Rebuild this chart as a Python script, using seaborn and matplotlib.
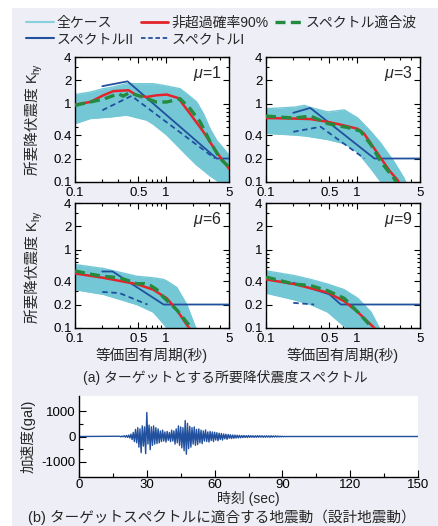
import matplotlib.pyplot as plt
import numpy as np
import pandas as pd
import seaborn as sns
from matplotlib.lines import Line2D
from matplotlib.patches import Rectangle
from matplotlib.ticker import NullFormatter

sns.set_style('ticks')
plt.rcParams['font.family'] = ['Liberation Sans', 'Noto Sans CJK JP', 'DejaVu Sans']
plt.rcParams['axes.unicode_minus'] = False
plt.rcParams['mathtext.fontset'] = 'custom'
plt.rcParams['mathtext.rm'] = 'Liberation Sans'
plt.rcParams['mathtext.it'] = 'Liberation Sans:italic'

# ---- (a) spectra: period T [s] vs Khy ----
# mu = 1
band_T_1 = [0.1, 0.147, 0.205, 0.243, 0.37, 0.62, 0.73, 1.03, 1.44, 1.71, 2.2, 2.61, 3.09, 3.66, 4.34, 5.0]
band_hi_1 = [1.32, 1.42, 1.57, 1.62, 1.82, 1.82, 1.82, 1.7, 1.57, 1.35, 1.06, 0.75, 0.48, 0.34, 0.27, 0.22]
band_lo_1 = [0.56, 0.65, 0.67, 0.68, 0.72, 0.62, 0.55, 0.40, 0.27, 0.22, 0.165, 0.141, 0.12, 0.105, 0.09, 0.08]
red_T_1 = [0.1, 0.147, 0.205, 0.265, 0.39, 0.48, 0.62, 0.79, 1.03, 1.38, 1.86, 2.61, 3.66, 5.0]
red_K_1 = [0.98, 1.06, 1.29, 1.46, 1.5, 1.29, 1.23, 1.29, 1.32, 1.19, 0.75, 0.44, 0.24, 0.148]
grn_T_1 = [0.1, 0.147, 0.205, 0.30, 0.34, 0.40, 0.62, 0.79, 1.03, 1.44, 1.86, 2.4, 3.09, 3.98, 5.0]
grn_K_1 = [0.96, 1.06, 1.15, 1.35, 1.26, 1.40, 1.17, 1.06, 1.06, 1.17, 0.87, 0.59, 0.33, 0.2, 0.156]
s2_T_1 = [0.2, 0.38, 3.66, 5.0]
s2_K_1 = [1.69, 1.95, 0.2, 0.2]
s1_T_1 = [0.2, 0.42, 3.5]
s1_K_1 = [0.83, 1.27, 0.2]

# mu = 3
band_T_3 = [0.1, 0.205, 0.265, 0.31, 0.48, 0.73, 1.03, 1.44, 1.86, 2.02, 2.6, 3.36, 3.6]
band_hi_3 = [0.87, 0.91, 0.96, 0.9, 0.79, 0.84, 0.66, 0.44, 0.31, 0.27, 0.18, 0.11, 0.09]
band_lo_3 = [0.42, 0.40, 0.39, 0.38, 0.35, 0.31, 0.24, 0.148, 0.1, 0.09, 0.08, 0.08, 0.08]
red_T_3 = [0.1, 0.205, 0.31, 0.48, 0.73, 1.03, 1.2, 1.44, 1.86, 2.3, 2.84, 3.0]
red_K_3 = [0.66, 0.65, 0.64, 0.59, 0.53, 0.48, 0.42, 0.31, 0.2, 0.14, 0.105, 0.095]
grn_T_3 = [0.1, 0.205, 0.31, 0.48, 0.79, 1.1, 1.44, 1.86, 2.6, 2.8]
grn_K_3 = [0.70, 0.66, 0.70, 0.56, 0.50, 0.45, 0.30, 0.18, 0.11, 0.095]
s2_T_3 = [0.2, 0.308, 1.57, 5.0]
s2_K_3 = [0.77, 0.89, 0.2, 0.2]
s1_T_3 = [0.2, 0.40, 1.22]
s1_K_3 = [0.44, 0.51, 0.2]

# mu = 6
band_T_6 = [0.1, 0.205, 0.48, 0.73, 0.94, 1.03, 1.33, 1.71, 2.11, 2.3]
band_hi_6 = [0.65, 0.58, 0.46, 0.44, 0.42, 0.40, 0.33, 0.2, 0.105, 0.09]
band_lo_6 = [0.31, 0.27, 0.20, 0.16, 0.115, 0.1, 0.08, 0.08, 0.08, 0.08]
red_T_6 = [0.1, 0.205, 0.48, 0.73, 1.03, 1.33, 1.71, 1.95]
red_K_6 = [0.50, 0.44, 0.365, 0.31, 0.24, 0.17, 0.11, 0.09]
grn_T_6 = [0.1, 0.135, 0.205, 0.31, 0.4, 0.48, 0.58, 0.68, 0.8, 0.94, 1.33, 1.86, 2.0]
grn_K_6 = [0.54, 0.50, 0.46, 0.44, 0.40, 0.37, 0.37, 0.35, 0.31, 0.25, 0.17, 0.105, 0.09]
s2_T_6 = [0.2, 0.26, 0.95, 5.0]
s2_K_6 = [0.53, 0.53, 0.2, 0.2]
s1_T_6 = [0.2, 0.31, 0.63]
s1_K_6 = [0.29, 0.28, 0.2]

# mu = 9
band_T_9 = [0.1, 0.205, 0.31, 0.48, 0.73, 0.76, 1.03, 1.44, 1.78, 1.9]
band_hi_9 = [0.54, 0.47, 0.42, 0.365, 0.31, 0.30, 0.24, 0.16, 0.1, 0.09]
band_lo_9 = [0.28, 0.23, 0.2, 0.16, 0.105, 0.1, 0.08, 0.08, 0.08, 0.08]
red_T_9 = [0.1, 0.205, 0.48, 0.73, 1.03, 1.33, 1.57, 1.7]
red_K_9 = [0.42, 0.365, 0.285, 0.22, 0.16, 0.12, 0.1, 0.09]
grn_T_9 = [0.1, 0.205, 0.31, 0.48, 0.73, 1.03, 1.44, 1.6]
grn_K_9 = [0.45, 0.365, 0.35, 0.30, 0.24, 0.16, 0.105, 0.09]
s2_T_9 = [0.2, 0.5, 0.67, 5.0]
s2_K_9 = [0.38, 0.27, 0.2, 0.2]
s1_T_9 = [0.2, 0.34]
s1_K_9 = [0.21, 0.2]

x_major = [0.1, 0.5, 1, 5]
x_labels = ['0.1', '0.5', '1', '5']
x_minor = [0.2, 0.3, 0.4, 0.6, 0.7, 0.8, 0.9, 2, 3, 4]
y_major = [0.1, 0.2, 0.4, 1, 2, 4]
y_labels = ['0.1', '0.2', '0.4', '1', '2', '4']
y_minor = [0.3, 0.5, 0.6, 0.7, 0.8, 0.9, 3]

# ---- (b) acceleration record [gal], sampled every 0.5 s from 18 s ----
acc_t0 = 18.0
acc_dt = 0.5
acc_vals = [
    10, -15, 20, -10, 30, -25, 40, -35, 55, -60,
    90, -120, 160, -200, 280, -250, 350, -420, 300, -640,
    420, -380, 380, -680, 950, -300, 450, -520, 380, -350,
    420, -300, 350, -280, 300, -250, 220, -200, 250, -180,
    180, -220, 200, -150, 160, -200, 250, -180, 220, -300,
    300, -250, 420, -350, 380, -450, 350, -560, 630, -700,
    520, -480, 400, -420, 350, -300, 380, -350, 280, -320,
    300, -250, 250, -280, 220, -180, 260, -200, 180, -220,
    200, -160, 180, -200, 170, -140, 150, -170, 130, -120,
    120, -140, 100, -90, 90, -110, 80, -70, 70, -80,
    60, -70, 55, -60, 50, -55, 45, -50, 40, -45,
    40, -40, 35, -40, 40, -35, 35, -30, 30, -35,
    30, -30, 35, -30, 30, -25, 30, -30, 25, -30,
    30, -25, 25, -30, 30, -25, 25, -20, 25, -20,
    20, -15, 15, -15, 10, -10, 5, -5, 0, 0,
]
rec_start = 0.0
rec_end = 150.0

CYAN = '#74c8d6'
RED = '#e5232b'
GREEN = '#238a3e'
BLUE = '#21509e'

W, H = 438, 526
fig = plt.figure(figsize=(W / 100, H / 100), dpi=100)
fig.patches.append(Rectangle((12 / W, 0), 1 - 12 / W, 1 - 8 / H, transform=fig.transFigure,
                             facecolor='#eeeef6', edgecolor='none', zorder=-5))


def box(l, t, r, b):
    return [l / W, 1 - b / H, (r - l) / W, (b - t) / H]


panels = [
    (1, box(75, 57, 229, 182), band_T_1, band_lo_1, band_hi_1, red_T_1, red_K_1, grn_T_1, grn_K_1, s2_T_1, s2_K_1, s1_T_1, s1_K_1),
    (3, box(266, 57, 420, 182), band_T_3, band_lo_3, band_hi_3, red_T_3, red_K_3, grn_T_3, grn_K_3, s2_T_3, s2_K_3, s1_T_3, s1_K_3),
    (6, box(75, 203, 229, 328), band_T_6, band_lo_6, band_hi_6, red_T_6, red_K_6, grn_T_6, grn_K_6, s2_T_6, s2_K_6, s1_T_6, s1_K_6),
    (9, box(266, 203, 420, 328), band_T_9, band_lo_9, band_hi_9, red_T_9, red_K_9, grn_T_9, grn_K_9, s2_T_9, s2_K_9, s1_T_9, s1_K_9),
]

for mu, pos, bT, blo, bhi, rT, rK, gT, gK, s2T, s2K, s1T, s1K in panels:
    ax = fig.add_axes(pos)
    ax.set_facecolor('white')
    ax.set_xscale('log')
    ax.set_yscale('log')
    # all cases (band)
    ax.fill_between(bT, blo, bhi, color=CYAN, lw=0, zorder=1)
    sns.lineplot(x=bT, y=bhi, ax=ax, color=CYAN, lw=1.0, estimator=None, sort=False, zorder=1)
    sns.lineplot(x=bT, y=blo, ax=ax, color=CYAN, lw=1.0, estimator=None, sort=False, zorder=1)
    # design spectra
    sns.lineplot(x=s2T, y=s2K, ax=ax, color=BLUE, lw=1.3, estimator=None, sort=False, zorder=3)
    sns.lineplot(x=s1T, y=s1K, ax=ax, color=BLUE, lw=1.3, linestyle=(0, (3, 2)),
                 estimator=None, sort=False, zorder=3)
    # 90% and fitted wave
    sns.lineplot(x=rT, y=rK, ax=ax, color=RED, lw=1.8, estimator=None, sort=False, zorder=4)
    sns.lineplot(x=gT, y=gK, ax=ax, color=GREEN, lw=2.4, linestyle=(0, (3, 1.6)),
                 estimator=None, sort=False, zorder=5)

    ax.set_xlim(0.1, 5)
    ax.set_ylim(0.1, 4)
    ax.set_xticks(x_major, x_labels)
    ax.set_xticks(x_minor, minor=True)
    ax.set_yticks(y_major, y_labels)
    ax.set_yticks(y_minor, minor=True)
    ax.xaxis.set_minor_formatter(NullFormatter())
    ax.yaxis.set_minor_formatter(NullFormatter())
    ax.tick_params(which='both', direction='in', top=True, right=True, width=0.8,
                   labelsize=9.5, colors='black')
    ax.tick_params(axis='x', pad=3.5)
    ax.tick_params(axis='y', pad=2.5)
    ax.tick_params(which='major', length=4)
    ax.tick_params(which='minor', length=2.5)
    for sp in ax.spines.values():
        sp.set_color('black')
        sp.set_linewidth(1.0)
    ax.set_xlabel('')
    ax.set_ylabel('')
    ax.text(0.95, 0.87, r'$\mu$=%d' % mu, transform=ax.transAxes, ha='right', va='center',
            fontsize=11.5)

# captions of (a)
fig.text(152 / W, 1 - 355 / H, '等価固有周期(秒)', ha='center', va='center', fontsize=10.5)
fig.text(343 / W, 1 - 355 / H, '等価固有周期(秒)', ha='center', va='center', fontsize=10.5)
fig.text(225 / W, 1 - 377 / H, '(a) ターゲットとする所要降伏震度スペクトル', ha='center', va='center',
         fontsize=10)

# y labels "所要降伏震度 Khy"
ylab_main = []
ylab_sub = []
for yc in (119.5, 267):
    t1 = fig.text(33 / W, 0.5, '所要降伏震度 K', rotation=90, ha='center', va='bottom', fontsize=10.5)
    t2 = fig.text(36 / W, 0.5, 'hy', rotation=90, ha='center', va='bottom', fontsize=7)
    ylab_main.append((t1, yc))
    ylab_sub.append(t2)
fig.canvas.draw()
rend = fig.canvas.get_renderer()
for (t1, yc), t2 in zip(ylab_main, ylab_sub):
    h1 = t1.get_window_extent(rend).height
    h2 = t2.get_window_extent(rend).height
    bottom = (H - yc) - (h1 + h2) / 2
    t1.set_y(bottom / H)
    t2.set_y((bottom + h1) / H)

# ---- (b) time history ----
acc_t = acc_t0 + acc_dt * np.arange(len(acc_vals))
rec = pd.DataFrame({
    'time': np.concatenate([[rec_start], acc_t, [rec_end]]),
    'acc': np.concatenate([[0.0], acc_vals, [0.0]]),
})
axb = fig.add_axes(box(79, 396, 418, 477))
axb.set_facecolor('white')
sns.lineplot(data=rec, x='time', y='acc', ax=axb, color=BLUE, lw=1.0, estimator=None, sort=False)
axb.set_xlim(0, 150)
axb.set_ylim(-1600, 1600)
axb.set_xticks([0, 30, 60, 90, 120, 150])
axb.set_xticks([15, 45, 75, 105, 135], minor=True)
axb.set_yticks([-1000, 0, 1000])
axb.set_yticks([-500, 500], minor=True)
sns.despine(ax=axb)
axb.tick_params(which='both', direction='in', width=0.8, labelsize=9.5, colors='black')
axb.tick_params(axis='x', pad=1.5)
axb.tick_params(axis='y', pad=2.5)
axb.tick_params(which='major', length=5)
axb.tick_params(which='minor', length=3)
for sp in ('left', 'bottom'):
    axb.spines[sp].set_color('black')
    axb.spines[sp].set_linewidth(1.0)
axb.set_xlabel('')
axb.set_ylabel('')
fig.text(248 / W, 1 - 499 / H, '時刻 (sec)', ha='center', va='center', fontsize=10)
fig.text(28 / W, 1 - 436 / H, '加速度(gal)', rotation=90, ha='center', va='center', fontsize=10.5)
fig.text(222 / W, 1 - 517 / H, '(b) ターゲットスペクトルに適合する地震動（設計地震動）', ha='center',
         va='center', fontsize=10.5)

# ---- legend ----
handles = [
    Line2D([], [], color='#86d0dc', lw=1.5),
    Line2D([], [], color=BLUE, lw=1.5),
    Line2D([], [], color=RED, lw=2.0),
    Line2D([], [], color=BLUE, lw=1.3, linestyle=(0, (2.5, 1.5))),
    Line2D([], [], color=GREEN, lw=2.4, linestyle=(0, (3, 1.6))),
]
labels = ['全ケース', 'スペクトルII', '非超過確率90%', 'スペクトルI', 'スペクトル適合波']
fig.legend(handles, labels, ncol=3, loc='upper left', bbox_to_anchor=(26 / W, 1 - 16 / H),
           frameon=False, fontsize=10, handlelength=2.0, handletextpad=0.2,
           columnspacing=0.5, labelspacing=0.15, borderaxespad=0, borderpad=0)

fig.savefig('out.png', dpi=100)
